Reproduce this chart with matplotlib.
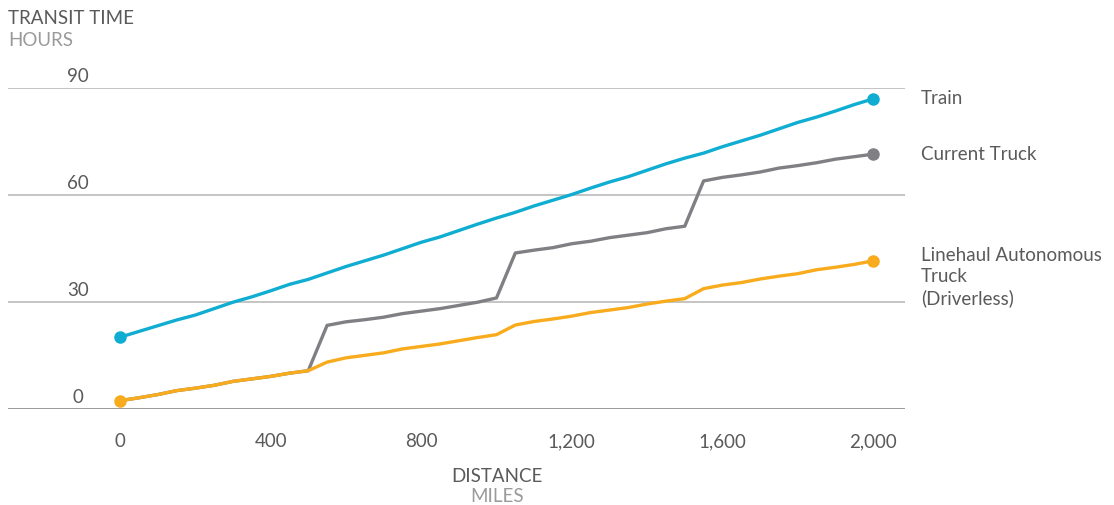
import matplotlib.pyplot as plt

# distance in miles, every 50 miles
miles = list(range(0, 2001, 50))

train = [20.0, 21.6, 23.2, 24.8, 26.2, 28.0, 29.8, 31.3, 33.0, 34.8,
         36.2, 38.0, 39.8, 41.4, 43.0, 44.8, 46.6, 48.1, 49.9, 51.7,
         53.4, 55.0, 56.8, 58.4, 60.0, 61.8, 63.5, 65.0, 66.8, 68.6,
         70.2, 71.6, 73.4, 75.0, 76.6, 78.4, 80.2, 81.7, 83.4, 85.2, 86.8]

current_truck = [2.2, 3.0, 3.9, 5.0, 5.7, 6.5, 7.6, 8.3, 9.0, 9.9,
                 10.6, 23.3, 24.3, 24.9, 25.6, 26.6, 27.3, 28.0, 28.9, 29.8,
                 31.0, 43.6, 44.4, 45.1, 46.2, 46.9, 47.9, 48.6, 49.3, 50.4,
                 51.1, 63.8, 64.8, 65.5, 66.3, 67.4, 68.1, 68.9, 69.9, 70.6, 71.3]

autonomous = [2.2, 3.0, 3.9, 5.0, 5.7, 6.5, 7.6, 8.3, 9.0, 9.9,
              10.6, 13.0, 14.2, 14.9, 15.6, 16.7, 17.4, 18.1, 19.0, 19.9,
              20.7, 23.4, 24.4, 25.1, 25.9, 26.9, 27.6, 28.3, 29.3, 30.1,
              30.8, 33.6, 34.6, 35.3, 36.3, 37.1, 37.8, 38.9, 39.6, 40.4, 41.4]

x_ticks = [0, 400, 800, 1200, 1600, 2000]
x_labels = ["0", "400", "800", "1,200", "1,600", "2,000"]
y_ticks = [0, 30, 60, 90]

plt.rcParams['font.family'] = ['Lato', 'DejaVu Sans']
FS = 13.5

W, H = 1114, 506
fig = plt.figure(figsize=(W / 100, H / 100), dpi=100)
ax = fig.add_axes([8 / W, (H - 409.5) / H, 897 / W, 321 / H])
ax.set_xlim(-297.5, 2085)
ax.set_ylim(0, 90)
ax.axis('off')

for v in y_ticks:
    ax.axhline(v, color='#9a9a9a' if v == 0 else '#c4c4c4', lw=1.4, zorder=1)
    ax.text(-111, v + 1.1, str(v), ha='center', va='bottom', fontsize=FS, color='#5a5a5a')

for v, lab in zip(x_ticks, x_labels):
    ax.text(v, -6.6, lab, ha='center', va='top', fontsize=FS, color='#5a5a5a')

c_train = '#0fadd2'
c_truck = '#808084'
c_auto = '#f8ab1c'

ax.plot(miles, current_truck, color=c_truck, lw=2.4, zorder=3)
ax.plot(miles, autonomous, color=c_auto, lw=2.4, zorder=4)
ax.plot(miles, train, color=c_train, lw=2.4, zorder=3)

ax.plot([miles[0], miles[-1]], [train[0], train[-1]], 'o', color=c_train, ms=8, zorder=5, clip_on=False)
ax.plot([miles[-1]], [current_truck[-1]], 'o', color=c_truck, ms=8, zorder=5, clip_on=False)
ax.plot([miles[0], miles[-1]], [autonomous[0], autonomous[-1]], 'o', color=c_auto, ms=8, zorder=5, clip_on=False)

# series labels on the right
fig.text(921 / W, 1 - 98 / H, "Train", ha='left', va='center', fontsize=FS, color='#5a5a5a')
fig.text(921 / W, 1 - 154 / H, "Current Truck", ha='left', va='center', fontsize=FS, color='#5a5a5a')
fig.text(921 / W, 1 - 247 / H, "Linehaul Autonomous\nTruck\n(Driverless)", ha='left', va='top',
         fontsize=FS, color='#5a5a5a', linespacing=1.3)

# axis titles
fig.text(8 / W, 1 - 18 / H, "TRANSIT TIME", ha='left', va='center', fontsize=FS, color='#5a5a5a')
fig.text(8 / W, 1 - 40 / H, "HOURS", ha='left', va='center', fontsize=FS, color='#9a9a9a')
fig.text(497 / W, 1 - 477 / H, "DISTANCE", ha='center', va='center', fontsize=FS, color='#5a5a5a')
fig.text(497 / W, 1 - 497 / H, "MILES", ha='center', va='center', fontsize=FS, color='#9a9a9a')

fig.savefig('out.png', dpi=100)
